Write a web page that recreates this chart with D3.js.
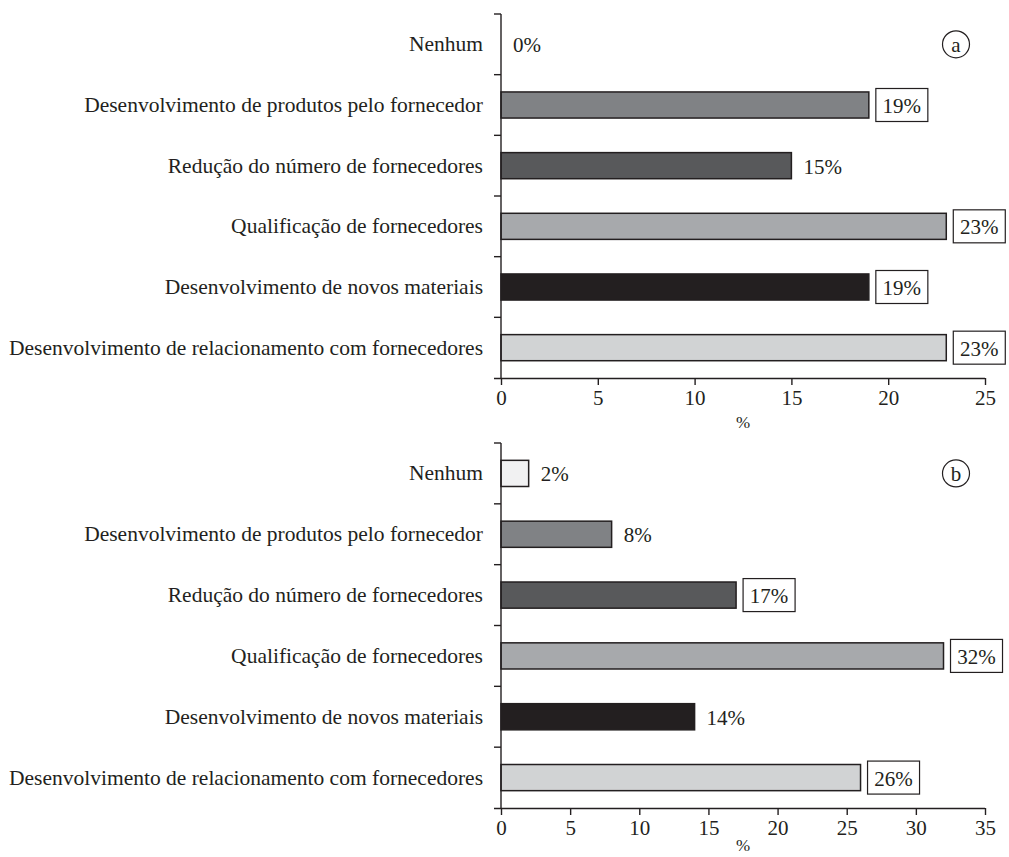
<!DOCTYPE html>
<html><head><meta charset="utf-8">
<script src="https://cdn.jsdelivr.net/npm/d3@7"></script>
<style>body{margin:0;background:#fff}</style>
</head><body>
<svg id="c" width="1009" height="857"></svg>
<script>
const categories = ["Nenhum","Desenvolvimento de produtos pelo fornecedor","Redução do número de fornecedores","Qualificação de fornecedores","Desenvolvimento de novos materiais","Desenvolvimento de relacionamento com fornecedores"];
const valuesA = [0,19,15,23,19,23];
const valuesB = [2,8,17,32,14,26];
const boxedA = [false,true,false,true,true,true];
const boxedB = [false,false,true,true,false,true];
const ticksA = [0,5,10,15,20,25];
const ticksB = [0,5,10,15,20,25,30,35];
const barColors = ["#f1f1f2","#808285","#58595b","#a7a9ac","#231f20","#d1d3d4"];
const panelLetters = ["a","b"];
const axisTitle = "%";

const svg = d3.select("#c");
const FONT = "Liberation Serif";
const INK = "#231f20";

function panel(top, bottom, values, boxed, ticks, letter, titleOffset){
  const g = svg.append("g");
  const x = d3.scaleLinear().domain([0, ticks[ticks.length-1]]).range([501, 985]);
  const y = d3.scaleBand().domain(categories).range([top, bottom]).paddingInner(0.57).paddingOuter(0.285);
  const data = categories.map((c,i)=>({c, v: values[i], boxed: boxed[i], color: barColors[i]}));
  g.selectAll("rect.bar").data(data).join("rect")
    .attr("x", x(0)).attr("y", d=>y(d.c))
    .attr("width", d=>x(d.v)-x(0)).attr("height", y.bandwidth())
    .attr("fill", d=>d.color).attr("stroke", INK).attr("stroke-width", 1.5)
    .attr("display", d=>d.v>0?null:"none");
  g.append("line").attr("x1",x(0)).attr("x2",x(0)).attr("y1",top).attr("y2",bottom)
    .attr("stroke",INK).attr("stroke-width",1.4);
  d3.range(categories.length).forEach(i=>{
    const yy = top + y.step()*i;
    g.append("line").attr("x1",x(0)-7).attr("x2",x(0)).attr("y1",yy).attr("y2",yy)
      .attr("stroke",INK).attr("stroke-width",1.4);
  });
  g.selectAll("text.cat").data(data).join("text")
    .attr("x", 483).attr("y", d=>y(d.c)+y.bandwidth()/2)
    .attr("text-anchor","end").attr("dominant-baseline","central")
    .attr("font-family",FONT).attr("font-size",21.5).attr("fill",INK)
    .text(d=>d.c);
  const cy = d=>y(d.c)+y.bandwidth()/2;
  g.selectAll("rect.box").data(data.filter(d=>d.boxed)).join("rect")
    .attr("x", d=>x(d.v)+7).attr("y", d=>cy(d)-16.5).attr("width",52).attr("height",33)
    .attr("fill","#fff").attr("stroke",INK).attr("stroke-width",1.2);
  g.selectAll("text.val").data(data).join("text")
    .attr("x", d=> d.boxed ? x(d.v)+33 : x(d.v)+12)
    .attr("y", d=>cy(d)+1)
    .attr("text-anchor", d=>d.boxed?"middle":"start")
    .attr("dominant-baseline","central")
    .attr("font-family",FONT).attr("font-size",21).attr("fill",INK)
    .text(d=>d.v+"%");
  const ax = g.append("g").attr("transform",`translate(0,${bottom})`)
    .call(d3.axisBottom(x).tickValues(ticks).tickSize(7).tickSizeOuter(0).tickPadding(5));
  ax.select(".domain").attr("d", `M${x(0)-7},0.5H${x.range()[1]}`).attr("stroke",INK).attr("stroke-width",1.4);
  ax.selectAll(".tick line").attr("stroke",INK).attr("stroke-width",1.4);
  ax.selectAll(".tick text").attr("font-family",FONT).attr("font-size",21).attr("fill",INK);
  g.append("text").attr("x", 743).attr("y", bottom+titleOffset).attr("text-anchor","middle")
    .attr("dominant-baseline","central")
    .attr("font-family",FONT).attr("font-size",17).attr("fill",INK).text(axisTitle);
  const firstCy = cy(data[0]);
  g.append("circle").attr("cx",956).attr("cy",firstCy).attr("r",13.5)
    .attr("fill","none").attr("stroke",INK).attr("stroke-width",1.2);
  g.append("text").attr("x",956).attr("y",firstCy+1).attr("text-anchor","middle")
    .attr("dominant-baseline","central").attr("font-family",FONT).attr("font-size",21)
    .attr("fill",INK).text(letter);
}
panel(14, 378, valuesA, boxedA, ticksA, panelLetters[0], 44);
panel(443, 808, valuesB, boxedB, ticksB, panelLetters[1], 37);
</script>
</body></html>
